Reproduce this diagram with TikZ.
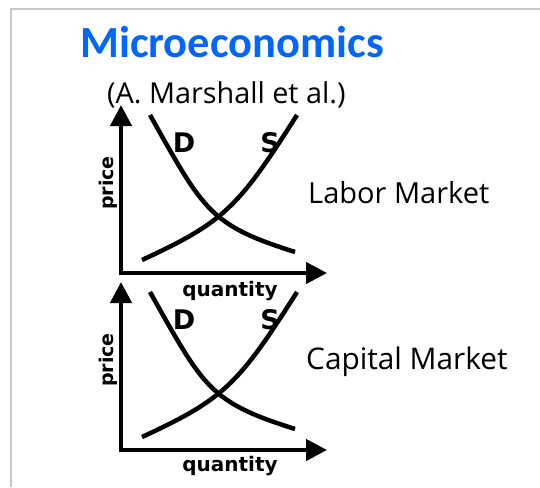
\documentclass[tikz,border=0pt]{standalone}
\usepackage{fontspec}
\setmainfont{Carlito}
\newfontfamily\opensans{Open Sans}
\newfontfamily\dejabold{DejaVu Sans Bold}
\usetikzlibrary{arrows.meta}
\definecolor{titleblue}{RGB}{0,102,255}
\definecolor{framegray}{RGB}{200,200,200}
\begin{document}
\begin{tikzpicture}[x=1pt,y=-1pt,
  axis/.style={line width=4.5pt, line join=miter, {Triangle[length=21pt,width=21pt]}-{Triangle[length=21pt,width=21pt]}},
  curve/.style={line width=4.5pt, line cap=butt},
  axlabel/.style={inner sep=0pt, font=\dejabold\fontsize{20}{20}\selectfont},
  curvelabel/.style={inner sep=0pt, font=\dejabold\fontsize{27}{27}\selectfont},
  marketlabel/.style={inner sep=0pt, anchor=base west, font=\opensans\fontsize{29}{29}\selectfont}]
\useasboundingbox (0,0) rectangle (540,487);
\fill[white] (0,0) rectangle (540,487);
\draw[framegray, line width=2pt] (11,487) -- (11,9) -- (540,9);
\node[inner sep=0pt, anchor=base west, text=titleblue, font=\bfseries\fontsize{44.5}{44.5}\selectfont] (title) at (80,58) {Microeconomics};
\node[inner sep=0pt, anchor=base west, font=\opensans\fontsize{28.8}{28.8}\selectfont] (author) at (107,103) {(A. Marshall et al.)};
\foreach \dy/\nm in {0/up,177/lo}{
\begin{scope}[yshift=-\dy pt]
  \coordinate (\nm-top) at (121,105);
  \coordinate (\nm-origin) at (121,273);
  \coordinate (\nm-right) at (327,273);
  \draw[axis] (\nm-top) -- (\nm-origin) -- (\nm-right);
  \draw[curve] (150,115) .. controls (204,211) and (209.5,225) .. (295,252);
  \draw[curve] (142,260) .. controls (224,222) and (238,208) .. (297,115);
  \node[curvelabel] (\nm-D) at (184,143) {D};
  \node[curvelabel] (\nm-S) at (270,143) {S};
  \node[axlabel, rotate=90, font=\dejabold\fontsize{19}{19}\selectfont] (\nm-price) at (108,183) {price};
\end{scope}
}
\node[axlabel] (up-qty) at (230,291) {quantity};
\node[axlabel] (lo-qty) at (230,466) {quantity};
\node[marketlabel] (labor) at (308,203) {Labor Market};
\node[marketlabel, font=\opensans\fontsize{29.8}{29.8}\selectfont] (capital) at (306,369) {Capital Market};
\end{tikzpicture}
\end{document}
